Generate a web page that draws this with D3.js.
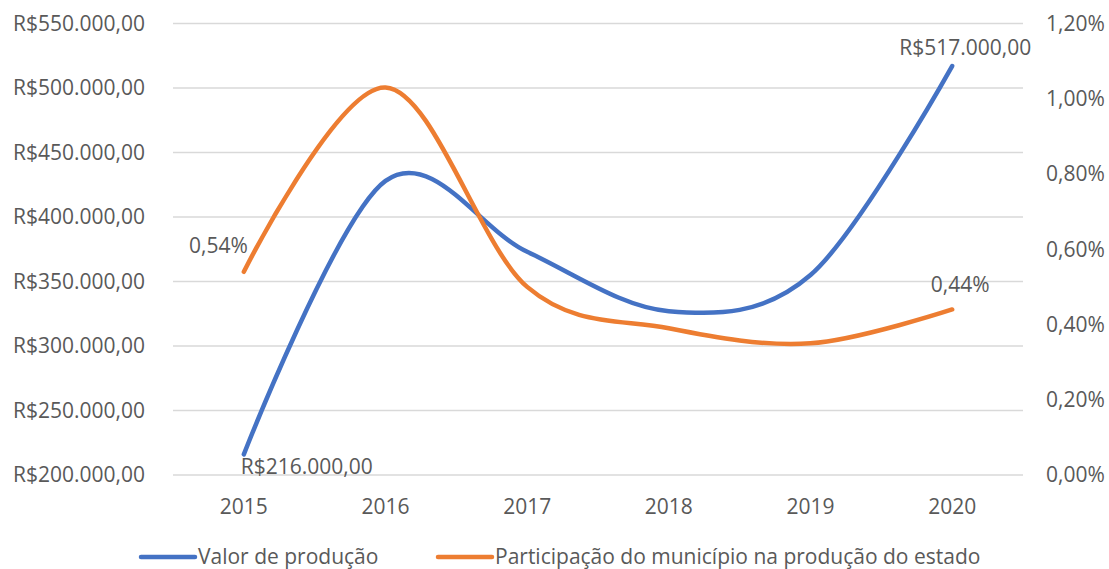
<!DOCTYPE html>
<html>
<head>
<meta charset="utf-8">
<script src="https://cdn.jsdelivr.net/npm/d3@7"></script>
<style>
  body { margin: 0; background: #fff; }
  text { font-family: "Open Sans", "Noto Sans", sans-serif; fill: #595959; }
</style>
</head>
<body>
<div id="chart"></div>
<script>
// data
var years = ["2015", "2016", "2017", "2018", "2019", "2020"];
var valor = [216000, 428000, 373000, 327000, 355000, 517000];
var participacao = [0.54, 1.03, 0.50, 0.39, 0.35, 0.44];
var leftTicks = [200000, 250000, 300000, 350000, 400000, 450000, 500000, 550000];
var rightTicks = [0, 0.2, 0.4, 0.6, 0.8, 1.0, 1.2];
var seriesNames = ["Valor de produção", "Participação do município na produção do estado"];

var W = 1109, H = 569;
var margin = {top: 23.5, right: 86, bottom: 94, left: 173};
var width = W - margin.left - margin.right,
    height = H - margin.top - margin.bottom;
var fs = "21px";

var svg = d3.select("#chart").append("svg")
    .attr("width", W)
    .attr("height", H);
var g = svg.append("g").attr("transform", "translate(" + margin.left + "," + margin.top + ")");

var x = d3.scaleBand().domain(years).range([0, width]);
var yL = d3.scaleLinear().domain([200000, 550000]).range([height, 0]);
var yR = d3.scaleLinear().domain([0, 1.2]).range([height, 0]);

var brl = function(v) { return "R$" + d3.format(",.2f")(v).replace(/,/g, "#").replace(".", ",").replace(/#/g, "."); };
var pct = function(v) { return d3.format(".2f")(v).replace(".", ",") + "%"; };

// gridlines
g.selectAll(".grid").data(leftTicks).enter().append("line")
  .attr("x1", 0).attr("x2", width)
  .attr("y1", function(d) { return yL(d); }).attr("y2", function(d) { return yL(d); })
  .attr("stroke", "#d9d9d9").attr("stroke-width", 1.3);

// left axis labels
g.selectAll(".lt").data(leftTicks).enter().append("text")
  .attr("x", -28).attr("y", function(d) { return yL(d); })
  .attr("dy", "0.35em").attr("text-anchor", "end")
  .style("font-size", fs)
  .text(brl);

// right axis labels
g.selectAll(".rt").data(rightTicks).enter().append("text")
  .attr("x", width + 23).attr("y", function(d) { return yR(d); })
  .attr("dy", "0.35em").attr("text-anchor", "start")
  .style("font-size", fs)
  .text(pct);

// x labels
g.selectAll(".xt").data(years).enter().append("text")
  .attr("x", function(d) { return x(d) + x.bandwidth() / 2; })
  .attr("y", height + 32)
  .attr("dy", "0.35em").attr("text-anchor", "middle")
  .style("font-size", fs)
  .text(function(d) { return d; });

var cx = function(d, i) { return x(years[i]) + x.bandwidth() / 2; };
var curve = d3.curveCatmullRom.alpha(0);

g.append("path")
  .datum(valor)
  .attr("d", d3.line().x(cx).y(function(d) { return yL(d); }).curve(curve))
  .attr("fill", "none").attr("stroke", "#4472c4")
  .attr("stroke-width", 4.5).attr("stroke-linecap", "round");

g.append("path")
  .datum(participacao)
  .attr("d", d3.line().x(cx).y(function(d) { return yR(d); }).curve(curve))
  .attr("fill", "none").attr("stroke", "#ed7d31")
  .attr("stroke-width", 4.5).attr("stroke-linecap", "round");

// data labels
var n = years.length - 1;
g.append("text")
  .attr("x", cx(null, 0) - 3).attr("y", yL(valor[0]) + 12)
  .attr("dy", "0.35em").style("font-size", fs)
  .text(brl(valor[0]));
g.append("text")
  .attr("x", cx(null, n) + 13).attr("y", yL(valor[n]) - 18)
  .attr("dy", "0.35em").attr("text-anchor", "middle").style("font-size", fs)
  .text(brl(valor[n]));
g.append("text")
  .attr("x", cx(null, 0) + 4).attr("y", yR(participacao[0]) - 26)
  .attr("dy", "0.35em").attr("text-anchor", "end").style("font-size", fs)
  .text(pct(participacao[0]));
g.append("text")
  .attr("x", cx(null, n) + 8).attr("y", yR(participacao[n]) - 25)
  .attr("dy", "0.35em").attr("text-anchor", "middle").style("font-size", fs)
  .text(pct(participacao[n]));

// legend
var legend = svg.append("g").attr("transform", "translate(0," + 557 + ")");
var legX = [141, 438];
var legColors = ["#4472c4", "#ed7d31"];
seriesNames.forEach(function(name, i) {
  legend.append("line")
    .attr("x1", legX[i]).attr("x2", legX[i] + 54)
    .attr("y1", 0).attr("y2", 0)
    .attr("stroke", legColors[i]).attr("stroke-width", 4.5).attr("stroke-linecap", "round");
  legend.append("text")
    .attr("x", legX[i] + 57).attr("y", 0).attr("dy", "0.35em")
    .style("font-size", fs)
    .text(name);
});
</script>
</body>
</html>
